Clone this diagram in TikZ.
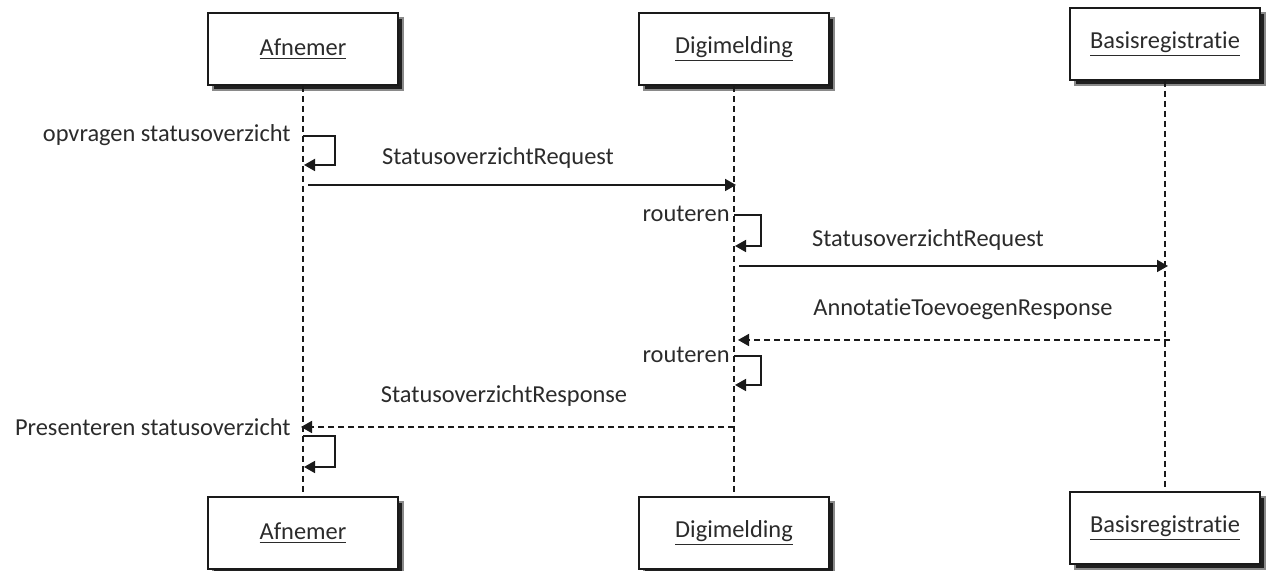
\documentclass[tikz,border=0pt]{standalone}
\usepackage{fontspec}
\setmainfont{Carlito}[Ligatures=NoCommon]
\usetikzlibrary{arrows.meta}
\definecolor{txt}{HTML}{2B2B2B}
\definecolor{ln}{HTML}{1A1A1A}
\definecolor{shA}{HTML}{8A8A8A}
\definecolor{shB}{HTML}{202020}
\begin{document}
\begin{tikzpicture}[x=0.5pt,y=-0.5pt,
  font=\fontsize{12.2}{14}\selectfont,
  actor/.style={draw=ln,line width=0.9pt,fill=white,minimum width=95pt,minimum height=36pt,inner sep=0pt,text=txt},
  shadowbox/.style={fill=shB,draw=shA,line width=1pt,minimum width=95pt,minimum height=36pt,inner sep=0pt},
  life/.style={draw=ln,line width=0.8pt,dash pattern=on 3pt off 2pt},
  msg/.style={draw=ln,line width=0.9pt,-{Triangle[length=5.5pt,width=6pt]}},
  rmsg/.style={msg,dash pattern=on 3pt off 2pt},
  lbl/.style={text=txt,inner sep=0pt}]
\useasboundingbox (0,0) rectangle (1266,571);
% shadows (drawn first, under the boxes)
\node[shadowbox] (sa) at (308,54) {};
\node[shadowbox] (sd) at (739,54) {};
\node[shadowbox] (sb) at (1170,49) {};
\node[shadowbox] (sa2) at (308,538) {};
\node[shadowbox] (sd2) at (739,538) {};
\node[shadowbox] (sb2) at (1170,533) {};
% actors
\node[actor] (aTop) at (303,49) {\underline{Afnemer}};
\node[actor] (dTop) at (734,49) {\underline{Digimelding}};
\node[actor] (bTop) at (1165,44) {\underline{Basisregistratie}};
\node[actor] (aBot) at (303,533) {\underline{Afnemer}};
\node[actor] (dBot) at (734,533) {\underline{Digimelding}};
\node[actor] (bBot) at (1165,528) {\underline{Basisregistratie}};
% lifelines
\draw[life] (aTop.south) -- (aBot.north);
\draw[life] (dTop.south) -- (dBot.north);
\draw[life] (bTop.south) -- (bBot.north);
% points on lifelines
\coordinate (a1) at (303,136);
\coordinate (a1e) at (304,165);
\coordinate (a2) at (308,185);
\coordinate (d2) at (736,185);
\coordinate (d3) at (734,215);
\coordinate (d3e) at (735,246);
\coordinate (d4) at (739,266);
\coordinate (b4) at (1168,266);
\coordinate (b5) at (1170,340);
\coordinate (d5) at (738,340);
\coordinate (d6) at (734,356);
\coordinate (d6e) at (735,385);
\coordinate (d7) at (734,427);
\coordinate (a7) at (301,427);
\coordinate (a8) at (303,436);
\coordinate (a8e) at (304,467);
% self loops and messages
\draw[msg] (a1) -- (335,136) -- (335,165) -- (a1e);
\node[lbl,anchor=east] (l1) at (291,135) {opvragen statusoverzicht};
\draw[msg] (a2) -- (d2);
\node[lbl] (l2) at (498,158) {StatusoverzichtRequest};
\draw[msg] (d3) -- (761,215) -- (761,246) -- (d3e);
\node[lbl,anchor=east] (l3) at (730,214) {routeren};
\draw[msg] (d4) -- (b4);
\node[lbl] (l4) at (928,240) {StatusoverzichtRequest};
\draw[rmsg] (b5) -- (d5);
\node[lbl] (l5) at (963,309) {AnnotatieToevoegenResponse};
\draw[msg] (d6) -- (761,356) -- (761,385) -- (d6e);
\node[lbl,anchor=east] (l6) at (730,355) {routeren};
\draw[rmsg] (d7) -- (a7);
\node[lbl] (l7) at (504,396) {StatusoverzichtResponse};
\node[lbl,anchor=east] (l8) at (291,427) {Presenteren statusoverzicht};
\draw[msg] (a8) -- (335,436) -- (335,467) -- (a8e);
\end{tikzpicture}
\end{document}
